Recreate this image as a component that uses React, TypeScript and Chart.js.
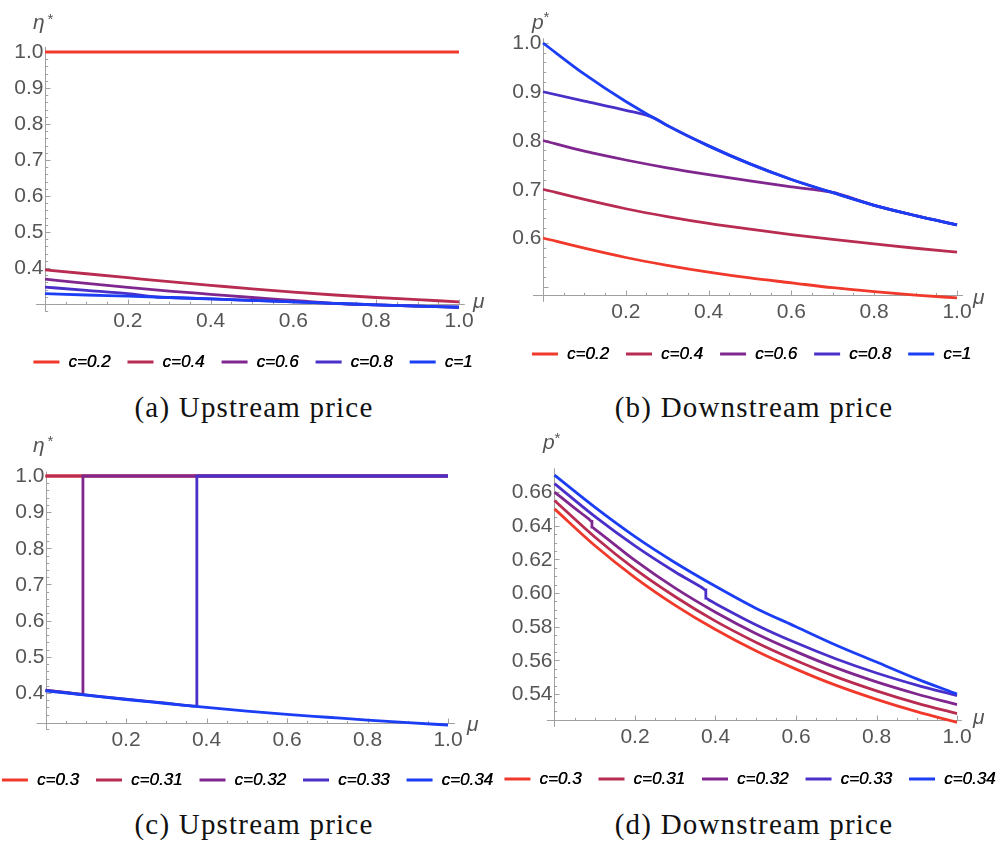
import React, { useEffect, useRef } from "react";
import { Chart, registerables } from "chart.js";

Chart.register(...registerables);

// ---------------- data ----------------
const MU = [0, 0.1, 0.2, 0.3, 0.4, 0.5, 0.6, 0.7, 0.8, 0.9, 1.0];
const X_TICKS = [0.2, 0.4, 0.6, 0.8, 1.0];

// (a) Upstream price eta*, c = 0.2 ... 1
const A_LABELS = ["c=0.2", "c=0.4", "c=0.6", "c=0.8", "c=1"];
const A_C02_MU = [0, 1];
const A_C02 = [1.0, 1.0];
const A_C04 = [0.395, 0.384, 0.373, 0.362, 0.352, 0.342, 0.333, 0.325, 0.318, 0.312, 0.306];
const A_C06_MU = [0, 0.1, 0.2, 0.3, 0.4, 0.5, 0.6, 0.72, 0.8, 0.9, 1.0];
const A_C06 = [0.369, 0.357, 0.346, 0.336, 0.327, 0.318, 0.31, 0.3005, 0.2975, 0.294, 0.291];
const A_C08_MU = [0, 0.1, 0.2, 0.27, 0.3, 0.4, 0.5, 0.6, 0.7, 0.8, 0.9, 1.0];
const A_C08 = [0.347, 0.338, 0.329, 0.3195, 0.318, 0.314, 0.31, 0.306, 0.302, 0.2975, 0.294, 0.291];
const A_C1 = [0.329, 0.325, 0.322, 0.318, 0.314, 0.31, 0.306, 0.302, 0.2975, 0.294, 0.291];
const A_Y_TICKS = [0.4, 0.5, 0.6, 0.7, 0.8, 0.9, 1.0];

// (b) Downstream price p*, c = 0.2 ... 1
const B_LABELS = ["c=0.2", "c=0.4", "c=0.6", "c=0.8", "c=1"];
const B_C02 = [0.6, 0.579, 0.56, 0.544, 0.53, 0.518, 0.508, 0.498, 0.49, 0.483, 0.477];
const B_C04 = [0.7, 0.679, 0.66, 0.644, 0.63, 0.618, 0.607, 0.597, 0.588, 0.579, 0.571];
const B_C06_MU = [0, 0.1, 0.2, 0.3, 0.4, 0.5, 0.6, 0.7, 0.72, 0.8, 0.9, 1.0];
const B_C06 = [0.8, 0.778, 0.76, 0.744, 0.73, 0.717, 0.705, 0.6935, 0.689, 0.667, 0.646, 0.627];
const B_C08_MU = [0, 0.1, 0.2, 0.266, 0.3, 0.4, 0.5, 0.6, 0.7, 0.8, 0.9, 1.0];
const B_C08 = [0.9, 0.881, 0.862, 0.847, 0.831, 0.789, 0.752, 0.72, 0.693, 0.667, 0.646, 0.627];
const B_C1 = [1.0, 0.936, 0.88, 0.831, 0.789, 0.752, 0.72, 0.693, 0.667, 0.646, 0.627];
const B_Y_TICKS = [0.6, 0.7, 0.8, 0.9, 1.0];

// (c) Upstream price eta*, c = 0.3 ... 0.34
const C_LABELS = ["c=0.3", "c=0.31", "c=0.32", "c=0.33", "c=0.34"];
const C_C03_MU = [0, 1];
const C_C03 = [1.0, 1.0];
const C_C031_MU = [0, 1];
const C_C031 = [1.0, 1.0];
const C_C032_MU = [0, 0.05, 0.093, 0.093, 1.0];
const C_C032 = [0.408, 0.402, 0.3965, 1.0, 1.0];
const C_C033_MU = [0, 0.1, 0.2, 0.3, 0.376, 0.376, 1.0];
const C_C033 = [0.407, 0.395, 0.383, 0.372, 0.3635, 1.0, 1.0];
const C_C034 = [0.406, 0.394, 0.382, 0.371, 0.36, 0.35, 0.341, 0.333, 0.325, 0.318, 0.3115];
const C_Y_TICKS = [0.4, 0.5, 0.6, 0.7, 0.8, 0.9, 1.0];

// (d) Downstream price p*, c = 0.3 ... 0.34
const D_LABELS = ["c=0.3", "c=0.31", "c=0.32", "c=0.33", "c=0.34"];
const D_C03 = [0.65, 0.6282, 0.6092, 0.5927, 0.5783, 0.5657, 0.5548, 0.5451, 0.5368, 0.5295, 0.5232];
const D_C031 = [0.655, 0.6333, 0.6142, 0.5978, 0.5833, 0.5708, 0.5599, 0.5502, 0.5419, 0.5346, 0.5283];
const D_C032_MU = [0, 0.05, 0.085, 0.093, 0.093, 0.1, 0.2, 0.3, 0.4, 0.5, 0.6, 0.7, 0.8, 0.9, 1.0];
const D_C032 = [0.66, 0.6505, 0.644, 0.6425, 0.6392, 0.638, 0.6194, 0.6029, 0.5886, 0.576, 0.5652, 0.5555, 0.5472, 0.54, 0.5337];
const D_C033_MU = [0, 0.1, 0.2, 0.3, 0.368, 0.376, 0.376, 0.385, 0.4, 0.5, 0.6, 0.7, 0.8, 0.9, 1.0];
const D_C033 = [0.665, 0.6455, 0.628, 0.6125, 0.603, 0.6018, 0.597, 0.5957, 0.5937, 0.5812, 0.5704, 0.5608, 0.5525, 0.5453, 0.539];
const D_C034 = [0.67, 0.651, 0.6335, 0.618, 0.604, 0.591, 0.58, 0.569, 0.559, 0.549, 0.54];
const D_Y_TICKS = [0.54, 0.56, 0.58, 0.6, 0.62, 0.64, 0.66];

// ---------------- styles ----------------
const COLORS = ["#f0392b", "#b92c52", "#80278f", "#4b2fc9", "#1b3ef5"];
const AXIS_COLOR = "#a0a0a0";
const TICK_TEXT = "#555555";
const SANS = '"Liberation Sans", Arial, sans-serif';

const pts = (xs: number[], ys: number[]) => xs.map((x, i) => ({ x, y: ys[i] }));

type Panel = {
  key: string;
  cLeft: number; cTop: number; W: number; H: number;
  x0: number; x1: number; yRefV: number; yRefPx: number; ppu: number;
  xmin: number; xmax: number; ymin: number; ymax: number; origin: number;
  yTicks: number[]; yExtraMajor: number[]; yMinor: number; digits: number;
  yLabel: string; yLabelPos: number[]; starPos: number[]; muPos: number[];
  legendCX: number; legendCY: number;
  caption: string; capCX: number; capBase: number;
  labels: string[];
  series: { x: number[]; y: number[] }[];
};

const PANELS: Panel[] = [
  {
    key: "a", cLeft: 0, cTop: 0, W: 498, H: 390,
    x0: 45, x1: 459, yRefV: 0.3, yRefPx: 304, ppu: 360,
    xmin: -0.022, xmax: 1.014, ymin: 0.278, ymax: 1.014, origin: 0.3,
    yTicks: A_Y_TICKS, yExtraMajor: [], yMinor: 0.02, digits: 1,
    yLabel: "η", yLabelPos: [33, 29], starPos: [47.5, 24], muPos: [473, 308],
    legendCX: 253, legendCY: 362,
    caption: "(a) Upstream price", capCX: 254, capBase: 417,
    labels: A_LABELS,
    series: [
      { x: A_C02_MU, y: A_C02 },
      { x: MU, y: A_C04 },
      { x: A_C06_MU, y: A_C06 },
      { x: A_C08_MU, y: A_C08 },
      { x: MU, y: A_C1 },
    ],
  },
  {
    key: "b", cLeft: 498, cTop: 0, W: 499, H: 390,
    x0: 543, x1: 957, yRefV: 0.6, yRefPx: 238, ppu: 487.5,
    xmin: -0.024, xmax: 1.0145, ymin: 0.469, ymax: 1.0096, origin: 0.4825,
    yTicks: B_Y_TICKS, yExtraMajor: [0.5], yMinor: 0.02, digits: 1,
    yLabel: "p", yLabelPos: [532, 28.5], starPos: [543.5, 22], muPos: [973, 303.5],
    legendCX: 751.5, legendCY: 354,
    caption: "(b) Downstream price", capCX: 754, capBase: 417,
    labels: B_LABELS,
    series: [
      { x: MU, y: B_C02 },
      { x: MU, y: B_C04 },
      { x: B_C06_MU, y: B_C06 },
      { x: B_C08_MU, y: B_C08 },
      { x: MU, y: B_C1 },
    ],
  },
  {
    key: "c", cLeft: 0, cTop: 425, W: 498, H: 375,
    x0: 45.5, x1: 448, yRefV: 0.4, yRefPx: 693, ppu: 361.7,
    xmin: -0.022, xmax: 1.017, ymin: 0.298, ymax: 1.012, origin: 0.317,
    yTicks: C_Y_TICKS, yExtraMajor: [], yMinor: 0.02, digits: 1,
    yLabel: "η", yLabelPos: [33, 452], starPos: [47.5, 446], muPos: [467, 730.5],
    legendCX: 247.5, legendCY: 780,
    caption: "(c) Upstream price", capCX: 254, capBase: 834,
    labels: C_LABELS,
    series: [
      { x: C_C03_MU, y: C_C03 },
      { x: C_C031_MU, y: C_C031 },
      { x: C_C032_MU, y: C_C032 },
      { x: C_C033_MU, y: C_C033 },
      { x: MU, y: C_C034 },
    ],
  },
  {
    key: "d", cLeft: 498, cTop: 425, W: 499, H: 375,
    x0: 554.5, x1: 957, yRefV: 0.54, yRefPx: 694, ppu: 1683,
    xmin: -0.019, xmax: 1.012, ymin: 0.5206, ymax: 0.6741, origin: 0.5245,
    yTicks: D_Y_TICKS, yExtraMajor: [], yMinor: 0.005, digits: 2,
    yLabel: "p", yLabelPos: [543, 449], starPos: [554.5, 443], muPos: [973, 723.5],
    legendCX: 750, legendCY: 779,
    caption: "(d) Downstream price", capCX: 754, capBase: 834,
    labels: D_LABELS,
    series: [
      { x: MU, y: D_C03 },
      { x: MU, y: D_C031 },
      { x: D_C032_MU, y: D_C032 },
      { x: D_C033_MU, y: D_C033 },
      { x: MU, y: D_C034 },
    ],
  },
];

// ---------------- Mathematica-like axes + legend plugin ----------------
const near = (a: number, b: number, eps: number) => Math.abs(a - b) < eps;

const mmaPlugin = {
  id: "mma",
  beforeDatasetsDraw(chart: any, _args: any, o: any) {
    const p: Panel = o.panel;
    const ctx = chart.ctx;
    const xs = chart.scales.x;
    const ys = chart.scales.y;
    const ca = chart.chartArea;
    const ox = Math.round(xs.getPixelForValue(0)) + 0.5;
    const oy = Math.round(ys.getPixelForValue(p.origin)) + 0.5;
    ctx.save();
    ctx.strokeStyle = AXIS_COLOR;
    ctx.lineWidth = 1;
    ctx.beginPath();
    ctx.moveTo(ca.left, oy);
    ctx.lineTo(ca.right, oy);
    ctx.moveTo(ox, ca.top);
    ctx.lineTo(ox, ca.bottom);
    // x ticks
    for (let k = 1; k <= 20; k++) {
      const v = k * 0.05;
      const major = X_TICKS.some((t) => near(t, v, 1e-6));
      const px = Math.round(xs.getPixelForValue(v)) + 0.5;
      ctx.moveTo(px, oy);
      ctx.lineTo(px, oy - (major ? 5 : 2.7));
    }
    // y ticks
    const majors = p.yTicks.concat(p.yExtraMajor);
    const k0 = Math.ceil(p.ymin / p.yMinor - 1e-6);
    const k1 = Math.floor(p.ymax / p.yMinor + 1e-6);
    for (let k = k0; k <= k1; k++) {
      const v = k * p.yMinor;
      if (near(v, p.origin, p.yMinor * 0.3)) continue;
      const major = majors.some((t) => near(t, v, 1e-6));
      const py = Math.round(ys.getPixelForValue(v)) + 0.5;
      ctx.moveTo(ox, py);
      ctx.lineTo(ox + (major ? 5 : 2.7), py);
    }
    ctx.stroke();

    // tick labels
    ctx.fillStyle = TICK_TEXT;
    ctx.font = `21px ${SANS}`;
    ctx.textBaseline = "middle";
    ctx.textAlign = "center";
    X_TICKS.forEach((t) => {
      ctx.fillText(t.toFixed(1), xs.getPixelForValue(t), oy + 16.5);
    });
    ctx.textAlign = "right";
    p.yTicks.forEach((t) => {
      ctx.fillText(t.toFixed(p.digits), ox - 2, ys.getPixelForValue(t) + 0.5);
    });

    // axis labels
    ctx.textAlign = "left";
    ctx.textBaseline = "alphabetic";
    ctx.font = `italic 21px ${SANS}`;
    ctx.fillText(p.yLabel, p.yLabelPos[0] - p.cLeft, p.yLabelPos[1] - p.cTop);
    ctx.fillText("μ", p.muPos[0] - p.cLeft, p.muPos[1] - p.cTop);
    ctx.font = `15px ${SANS}`;
    ctx.fillText("*", p.starPos[0] - p.cLeft, p.starPos[1] - p.cTop);
    ctx.restore();
  },
  afterDraw(chart: any, _args: any, o: any) {
    const p: Panel = o.panel;
    const ctx = chart.ctx;
    const LINE_W = 26, GAP = 9, PAD = 17;
    ctx.save();
    ctx.font = `italic 17px ${SANS}`;
    const items = chart.data.datasets.map((d: any) => ({
      text: d.label,
      color: d.borderColor,
      w: LINE_W + GAP + ctx.measureText(d.label).width,
    }));
    const total = items.reduce((s: number, it: any) => s + it.w, 0) + PAD * (items.length - 1);
    let x = p.legendCX - p.cLeft - total / 2;
    const y = p.legendCY - p.cTop;
    ctx.textBaseline = "middle";
    ctx.textAlign = "left";
    items.forEach((it: any) => {
      ctx.fillStyle = it.color;
      ctx.fillRect(x, y - 1.5, LINE_W, 3);
      ctx.fillStyle = "#000000";
      ctx.fillText(it.text, x + LINE_W + GAP, y + 0.5);
      ctx.fillText(it.text, x + LINE_W + GAP + 0.35, y + 0.5);
      x += it.w + PAD;
    });
    ctx.restore();
  },
};

function PanelChart({ p }: { p: Panel }) {
  const ref = useRef<HTMLCanvasElement | null>(null);
  useEffect(() => {
    if (!ref.current) return;
    const sx = p.x1 - p.x0;
    const caLeft = p.x0 + p.xmin * sx;
    const caRight = p.x0 + p.xmax * sx;
    const caTop = p.yRefPx - (p.ymax - p.yRefV) * p.ppu;
    const caBottom = p.yRefPx - (p.ymin - p.yRefV) * p.ppu;
    const chart = new Chart(ref.current, {
      type: "line",
      data: {
        datasets: p.series.map((s, i) => ({
          label: p.labels[i],
          data: pts(s.x, s.y),
          borderColor: COLORS[i],
          backgroundColor: COLORS[i],
          borderWidth: 2.8,
          pointRadius: 0,
          pointHoverRadius: 0,
          fill: false,
          cubicInterpolationMode: "monotone",
          tension: 0.4,
          order: -i,
        })),
      },
      options: {
        responsive: false,
        animation: false,
        devicePixelRatio: 1,
        events: [],
        layout: {
          autoPadding: false,
          padding: {
            left: caLeft - p.cLeft,
            right: p.cLeft + p.W - caRight,
            top: caTop - p.cTop,
            bottom: p.cTop + p.H - caBottom,
          },
        },
        scales: {
          x: { type: "linear", min: p.xmin, max: p.xmax, display: false },
          y: { type: "linear", min: p.ymin, max: p.ymax, display: false },
        },
        plugins: {
          legend: { display: false },
          tooltip: { enabled: false },
          title: { display: false },
          mma: { panel: p },
        } as any,
      },
      plugins: [mmaPlugin as any],
    } as any);
    return () => chart.destroy();
  }, [p]);
  return (
    <canvas
      ref={ref}
      width={p.W}
      height={p.H}
      style={{ position: "absolute", left: p.cLeft, top: p.cTop, width: p.W, height: p.H }}
    />
  );
}

export default function App() {
  return (
    <div
      style={{
        position: "absolute",
        left: 0,
        top: 0,
        width: 997,
        height: 852,
        overflow: "hidden",
        background: "#ffffff",
      }}
    >
      {PANELS.map((p) => (
        <PanelChart key={p.key} p={p} />
      ))}
      {PANELS.map((p) => (
        <div
          key={"cap" + p.key}
          style={{
            position: "absolute",
            left: p.capCX - 250,
            width: 500,
            top: p.capBase - 24.3,
            textAlign: "center",
            fontFamily: '"Liberation Serif", "Times New Roman", serif',
            fontSize: 29,
            lineHeight: "29px",
            letterSpacing: "1.2px",
            color: "#111",
            whiteSpace: "nowrap",
          }}
        >
          {p.caption}
        </div>
      ))}
    </div>
  );
}
